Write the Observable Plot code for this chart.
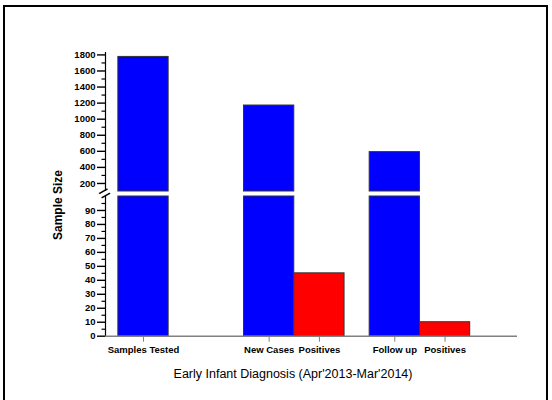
<!DOCTYPE html>
<html><head><meta charset="utf-8">
<script src="https://cdn.jsdelivr.net/npm/d3@7"></script>
<script src="https://cdn.jsdelivr.net/npm/@observablehq/plot@0.6"></script>
<style>
body{margin:0;background:#fff;}
#chart{position:relative;width:552px;height:400px;overflow:hidden;background:#fff;}
#chart svg{position:absolute;left:0;top:0;}
#frame{position:absolute;left:3px;top:5px;width:545px;height:430px;border:2px solid #000;box-sizing:border-box;}
#bottomPlot [aria-label^="x-axis"] line, #bottomPlot [aria-label^="x-axis"] path{stroke:#808080;}
[aria-label^="y-axis"] line, [aria-label^="y-axis"] path{stroke-width:1.4;}
</style></head><body>
<div id="chart"><div id="frame"></div></div>
<script>
// ---- data ----
const categories = ["Samples Tested", "New Cases", "Positives", "Follow up", "Positives"];
const values = [1775, 1170, 45, 590, 10];
const groups = ["Tested", "Tested", "Positive", "Tested", "Positive"];
const yTicksTop = [200, 400, 600, 800, 1000, 1200, 1400, 1600, 1800];
const yMinorTop = [300, 500, 700, 900, 1100, 1300, 1500, 1700];
const yTicksBottom = [0, 10, 20, 30, 40, 50, 60, 70, 80, 90];
const yMinorBottom = [5, 15, 25, 35, 45, 55, 65, 75, 85, 95];
const xTitle = "Early Infant Diagnosis (Apr'2013-Mar'2014)";
const yTitle = "Sample Size";

// ---- layout ----
const W = 552, H = 400;
const slots = [0, 2.5, 3.5, 5, 6];          // bar centres, in bar widths (gaps between groups)
const xDomain = [-0.756, 7.441];
const pxPerUnit = (W - 105 - 35) / (xDomain[1] - xDomain[0]);
const minorLen = 3.5 / pxPerUnit;
const data = categories.map((c, i) => ({label: c, value: values[i], group: groups[i], slot: slots[i]}));
const color = {domain: ["Tested", "Positive"], range: ["#0000ff", "#ff0000"]};
const style = {background: "transparent", fontFamily: "'Liberation Sans', Arial, sans-serif", fontSize: "9.5px", fontWeight: "bold", color: "#000", overflow: "visible"};
const plain = d => String(d);

const topPlot = Plot.plot({
  width: W, height: H,
  marginLeft: 105, marginRight: 35, marginTop: 52, marginBottom: H - 191,
  style,
  x: {domain: xDomain, axis: null},
  y: {domain: [100, 1830], ticks: yTicksTop, tickFormat: plain, tickSize: 8, tickPadding: 2, label: null},
  color,
  marks: [
    Plot.rectY(data.filter(d => d.value > 100), {x1: d => d.slot - 0.5, x2: d => d.slot + 0.5, y1: d => 100, y2: "value", fill: "group", stroke: "#333", strokeWidth: 1}),
    Plot.ruleY(yMinorTop, {x1: xDomain[0] - minorLen, x2: xDomain[0], stroke: "#000", strokeWidth: 1.2}),
    Plot.ruleX([xDomain[0]], {stroke: "#000", strokeWidth: 1.2})
  ]
});

const bottomPlot = Plot.plot({
  width: W, height: H,
  marginLeft: 105, marginRight: 35, marginTop: 196, marginBottom: H - 335.7,
  style,
  x: {domain: xDomain, ticks: slots, tickFormat: d => categories[slots.indexOf(d)], tickSize: 6, tickPadding: 4, label: null},
  y: {domain: [0, 100], ticks: yTicksBottom, tickFormat: plain, tickSize: 8, tickPadding: 2, label: null},
  color,
  marks: [
    Plot.rectY(data, {x1: d => d.slot - 0.5, x2: d => d.slot + 0.5, y1: d => 0, y2: d => Math.min(d.value, 100), fill: "group", stroke: "#333", strokeWidth: 1}),
    Plot.ruleY(yMinorBottom, {x1: xDomain[0] - minorLen, x2: xDomain[0], stroke: "#000", strokeWidth: 1.2}),
    Plot.ruleY([0], {stroke: "#808080", strokeWidth: 1.5}),
    Plot.ruleX([xDomain[0]], {stroke: "#000", strokeWidth: 1.2}),
    Plot.text(["="], {text: d => d, frameAnchor: "top-left", textAnchor: "middle", lineAnchor: "middle", dx: -1, dy: -3, rotate: -30, fontSize: 20, fontWeight: "normal", fill: "#000"}),
    Plot.text([yTitle], {text: d => d, frameAnchor: "top-left", textAnchor: "middle", lineAnchor: "middle", dx: 58 - 105, dy: 204.5 - 196, rotate: -90, fontSize: 12, fontWeight: "bold", fill: "#000"}),
    Plot.text([xTitle], {text: d => d, frameAnchor: "bottom", textAnchor: "middle", lineAnchor: "middle", dx: 292.5 - 311, dy: 373 - 335.7, fontSize: 12.5, fontWeight: "normal", fill: "#000"})
  ]
});
bottomPlot.id = "bottomPlot";
const chart = document.getElementById("chart");
chart.appendChild(topPlot);
chart.appendChild(bottomPlot);
</script>
</body></html>
